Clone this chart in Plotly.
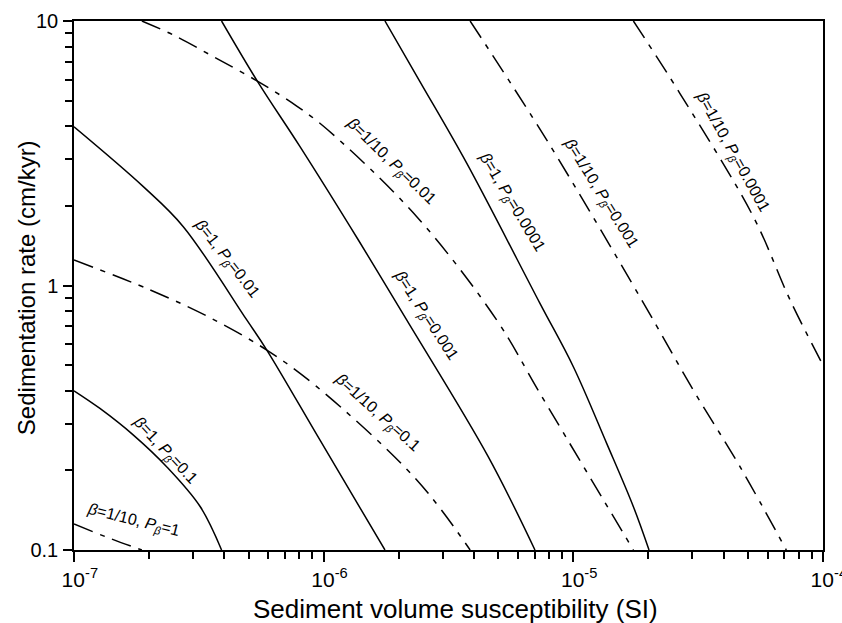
import plotly.graph_objects as go

# ---- data (x: susceptibility SI, y: sedimentation rate cm/kyr) ----
b1_p01_x = [1.0e-7, 1.27e-7, 1.73e-7, 2.35e-7, 3.2e-7, 3.9e-7]
b1_p01_y = [0.40, 0.343, 0.272, 0.2065, 0.146, 0.1]

b1_p001_x = [1.0e-7, 1.895e-7, 2.74e-7, 4.92e-7, 5.92e-7, 9.67e-7, 1.76e-6]
b1_p001_y = [3.98, 2.364, 1.669, 0.741, 0.570, 0.26, 0.1]

b1_p0001_x = [3.9e-7, 5.47e-7, 8.04e-7, 1.377e-6, 2.15e-6, 4.56e-6, 7.02e-6]
b1_p0001_y = [10, 5.85, 3.35, 1.486, 0.741, 0.2254, 0.1]

b1_p00001_x = [1.76e-6, 2.43e-6, 3.74e-6, 7.35e-6, 1.0e-5, 1.36e-5, 1.74e-5, 2.01e-5]
b1_p00001_y = [10, 5.9, 2.9, 0.856, 0.493, 0.253, 0.1458, 0.1]

b10_p1_x = [1.0e-7, 1.39e-7, 1.87e-7]
b10_p1_y = [0.1254, 0.1107, 0.1]

b10_p01_x = [1.0e-7, 2.02e-7, 3.4e-7, 5.92e-7, 9.38e-7, 2.36e-6, 3.86e-6]
b10_p01_y = [1.249, 0.962, 0.767, 0.570, 0.4145, 0.184, 0.1]

b10_p001_x = [1.87e-7, 2.50e-7, 3.61e-7, 5.47e-7, 7.80e-7, 1.04e-6, 2.36e-6, 4.93e-6, 7.35e-6, 1.74e-5]
b10_p001_y = [10, 8.85, 7.34, 5.90, 4.77, 3.87, 1.82, 0.741, 0.391, 0.1]

b10_p0001_x = [3.86e-6, 7.82e-6, 1.878e-5, 3.02e-5, 4.65e-5, 7.13e-5]
b10_p0001_y = [10, 3.55, 0.882, 0.403, 0.2065, 0.1]

b10_p00001_x = [1.74e-5, 2.67e-5, 5.26e-5, 7.38e-5, 1.0e-4]
b10_p00001_y = [10, 5.33, 1.82, 0.882, 0.5]

x_tick_vals = [1e-7, 1e-6, 1e-5, 1e-4]
x_tick_exp = ["-7", "-6", "-5", "-4"]
y_tick_vals = [0.1, 1, 10]
y_tick_text = ["0.1", "1", "10"]

# label text, log10 position (x, y), angle
labels = [
    ("<i>β</i>=1/10, <i>P</i><sub><i>β</i></sub>=0.01", -5.7305, 0.467, 44),
    ("<i>β</i>=1, <i>P</i><sub><i>β</i></sub>=0.01", -6.389, 0.101, 52),
    ("<i>β</i>=1, <i>P</i><sub><i>β</i></sub>=0.001", -5.5905, -0.1126, 57),
    ("<i>β</i>=1, <i>P</i><sub><i>β</i></sub>=0.0001", -5.246, 0.3136, 59),
    ("<i>β</i>=1/10, <i>P</i><sub><i>β</i></sub>=0.001", -4.889, 0.349, 58),
    ("<i>β</i>=1/10, <i>P</i><sub><i>β</i></sub>=0.0001", -4.364, 0.506, 61),
    ("<i>β</i>=1/10, <i>P</i><sub><i>β</i></sub>=0.1", -5.787, -0.481, 42),
    ("<i>β</i>=1, <i>P</i><sub><i>β</i></sub>=0.1", -6.635, -0.623, 47),
    ("<i>β</i>=1/10, <i>P</i><sub><i>β</i></sub>=1", -6.761, -0.887, 14),
]

FONT = "Liberation Sans, Arial, sans-serif"
DASHDOT = "20px,8px,5px,8px"

fig = go.Figure()
solid = [(b1_p01_x, b1_p01_y), (b1_p001_x, b1_p001_y), (b1_p0001_x, b1_p0001_y), (b1_p00001_x, b1_p00001_y)]
dashed = [(b10_p1_x, b10_p1_y), (b10_p01_x, b10_p01_y), (b10_p001_x, b10_p001_y),
          (b10_p0001_x, b10_p0001_y), (b10_p00001_x, b10_p00001_y)]
for xs, ys in solid:
    fig.add_trace(go.Scatter(x=xs, y=ys, mode="lines",
                             line=dict(color="black", width=1.5, shape="spline", smoothing=1.0),
                             showlegend=False, hoverinfo="skip"))
for xs, ys in dashed:
    fig.add_trace(go.Scatter(x=xs, y=ys, mode="lines",
                             line=dict(color="black", width=1.5, dash=DASHDOT, shape="spline", smoothing=1.0),
                             showlegend=False, hoverinfo="skip"))

for txt, lx, ly, ang in labels:
    fig.add_annotation(x=lx, y=ly, xref="x", yref="y", text=txt, textangle=ang, showarrow=False,
                       font=dict(family=FONT, size=16, color="black"))

# axis titles
fig.add_annotation(x=(455 - 74) / 749, y=-0.112, xref="paper", yref="paper", showarrow=False,
                   xanchor="center", yanchor="middle",
                   text="Sediment volume susceptibility (SI)", font=dict(family=FONT, size=26, color="black"))
fig.add_annotation(x=(26 - 74) / 749, y=0.495, xref="paper", yref="paper", showarrow=False,
                   xanchor="center", yanchor="middle", textangle=-90,
                   text="Sedimentation rate (cm/kyr)", font=dict(family=FONT, size=24, color="black"))

x_tick_text = ["&nbsp;&nbsp;10<sup>%s</sup>" % e for e in x_tick_exp]
x_minor = [m * 10.0 ** e for e in (-7, -6, -5) for m in range(2, 10)]
y_minor = [m * 10.0 ** e for e in (-1, 0) for m in range(2, 10)]

fig.update_xaxes(type="log", range=[-7, -4], tickmode="array", tickvals=x_tick_vals, ticktext=x_tick_text,
                 ticks="outside", ticklen=10, tickwidth=1.5, tickcolor="black", ticklabeloverflow="allow",
                 minor=dict(tickmode="array", tickvals=x_minor, ticks="outside", ticklen=7, tickwidth=1.5,
                            tickcolor="black", showgrid=False),
                 showline=True, linecolor="black", linewidth=1.5, mirror=True, showgrid=False, zeroline=False,
                 tickfont=dict(family=FONT, size=21, color="black"))
fig.update_yaxes(type="log", range=[-1, 1], tickmode="array", tickvals=y_tick_vals, ticktext=y_tick_text,
                 ticks="outside", ticklen=9, tickwidth=1.5, tickcolor="black", ticklabelstandoff=1,
                 minor=dict(tickmode="array", tickvals=y_minor, ticks="outside", ticklen=7, tickwidth=1.5,
                            tickcolor="black", showgrid=False),
                 showline=True, linecolor="black", linewidth=1.5, mirror=True, showgrid=False, zeroline=False,
                 tickfont=dict(family=FONT, size=20, color="black"))

fig.update_layout(width=842, height=623, margin=dict(l=74, r=19, t=21, b=73, autoexpand=False),
                  paper_bgcolor="white", plot_bgcolor="white", showlegend=False)

fig.write_html("out.html", config={"displayModeBar": False},
               post_script="document.body.style.margin='0px';document.body.style.overflow='hidden';")
